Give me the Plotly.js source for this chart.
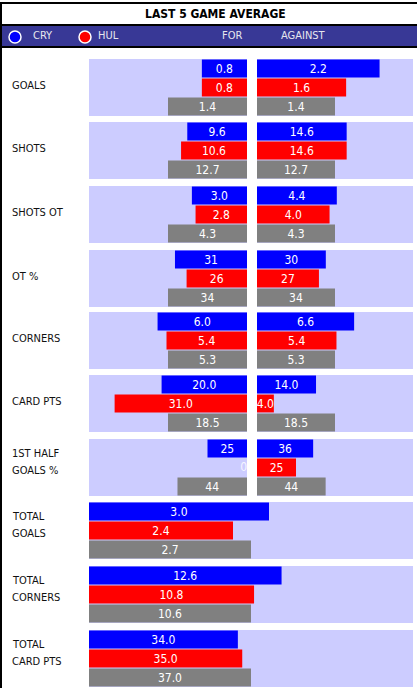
<!DOCTYPE html>
<html><head><meta charset="utf-8">
<script src="https://cdn.plot.ly/plotly-3.0.1.min.js"></script>
<style>html,body{margin:0;padding:0;background:#fff;}#chart{width:417px;height:688px;}</style>
</head><body><div id="chart"></div>
<script>
// ---- data ----
const title = 'LAST 5 GAME AVERAGE';
const teams = ['CRY', 'HUL'];
const sideLabels = ['FOR', 'AGAINST'];
const rowKeys = ['CRY', 'HUL', 'AVG'];
const categories = ['GOALS', 'SHOTS', 'SHOTS OT', 'OT %', 'CORNERS', 'CARD PTS', '1ST HALF\nGOALS %'];
const cryFor = [0.8, 9.6, 3.0, 31, 6.0, 20.0, 25];
const hulFor = [0.8, 10.6, 2.8, 26, 5.4, 31.0, 0];
const avgFor = [1.4, 12.7, 4.3, 34, 5.3, 18.5, 44];
const cryAgainst = [2.2, 14.6, 4.4, 30, 6.6, 14.0, 36];
const hulAgainst = [1.6, 14.6, 4.0, 27, 5.4, 4.0, 25];
const avgAgainst = [1.4, 12.7, 4.3, 34, 5.3, 18.5, 44];
const decimals = [1, 1, 1, 0, 1, 1, 0];
const scaleMax = [2.8, 25.4, 8.6, 68, 10.6, 37, 100];
const totalCategories = ['TOTAL\nGOALS', 'TOTAL\nCORNERS', 'TOTAL\nCARD PTS'];
const cryTotal = [3.0, 12.6, 34.0];
const hulTotal = [2.4, 10.8, 35.0];
const avgTotal = [2.7, 10.6, 37.0];
const totalScaleMax = [5.4, 21.2, 74];

// ---- style / layout ----
const W = 417, H = 688;
const FONT = "Tahoma, 'DejaVu Sans Condensed', 'DejaVu Sans', sans-serif";
const barColors = ['#0000ff', '#ff0000', '#808080'];
const panelTops = [59, 122, 186, 250, 312, 375, 439, 502, 566, 630];
const panelH = 57;
const leftDom = [89, 247], rightDom = [257, 413], fullDom = [89, 413];
const fx = p => p / W;
const fy = p => 1 - p / H;

const traces = [];
const layout = {
  width: W, height: H,
  margin: {l: 0, r: 0, t: 0, b: 0},
  paper_bgcolor: '#ffffff',
  plot_bgcolor: '#ccccff',
  showlegend: false,
  bargap: 0.06,
  font: {family: FONT, size: 11, color: '#000'},
  shapes: [],
  annotations: []
};

let axN = 0;
function addPanel(vals, texts, maxV, dom, reversed, topPx) {
  axN++;
  const sfx = axN === 1 ? '' : String(axN);
  traces.push({
    type: 'bar', orientation: 'h',
    x: vals, y: rowKeys,
    xaxis: 'x' + sfx, yaxis: 'y' + sfx,
    marker: {color: barColors, line: {width: 0}},
    text: texts,
    textposition: 'inside',
    insidetextanchor: 'middle',
    textangle: 0,
    constraintext: 'none',
    cliponaxis: false,
    textfont: {family: FONT, size: 12, color: '#ffffff'},
    hoverinfo: 'skip'
  });
  // zero-length bars: label drawn just inside the panel edge
  const zi = vals.map((v, j) => v === 0 ? j : -1).filter(j => j >= 0);
  if (zi.length) {
    traces.push({
      type: 'scatter', mode: 'text',
      x: zi.map(j => vals[j]), y: zi.map(j => rowKeys[j]),
      text: zi.map(j => texts[j]),
      textposition: reversed ? 'middle left' : 'middle right',
      textfont: {family: FONT, size: 12, color: '#f4f4ff'},
      xaxis: 'x' + sfx, yaxis: 'y' + sfx,
      cliponaxis: false, hoverinfo: 'skip'
    });
  }
  layout['xaxis' + sfx] = {
    domain: [fx(dom[0]), fx(dom[1])],
    range: reversed ? [maxV, 0] : [0, maxV],
    anchor: 'y' + sfx,
    showgrid: false, zeroline: false, showticklabels: false, ticks: '', showline: false, fixedrange: true
  };
  layout['yaxis' + sfx] = {
    domain: [fy(topPx + panelH), fy(topPx)],
    type: 'category', categoryorder: 'array', categoryarray: rowKeys,
    autorange: 'reversed',
    anchor: 'x' + sfx,
    showgrid: false, zeroline: false, showticklabels: false, ticks: '', showline: false, fixedrange: true
  };
}

function addLabel(label, topPx) {
  const lines = label.split('\n');
  const c = topPx + panelH / 2;
  const ys = lines.length === 1 ? [c - 2] : [c - 14, c + 3];
  lines.forEach((ln, j) => {
    layout.annotations.push({
      text: ln, xref: 'paper', yref: 'paper', x: fx(10), y: fy(ys[j]),
      xanchor: 'left', yanchor: 'middle', showarrow: false,
      font: {family: FONT, size: 11, color: '#111'}
    });
  });
}

const fmt = (v, d) => v.toFixed(d);
categories.forEach((cat, i) => {
  const d = decimals[i];
  const fv = [cryFor[i], hulFor[i], avgFor[i]];
  const av = [cryAgainst[i], hulAgainst[i], avgAgainst[i]];
  addPanel(fv, fv.map(v => fmt(v, d)), scaleMax[i], leftDom, true, panelTops[i]);
  addPanel(av, av.map(v => fmt(v, d)), scaleMax[i], rightDom, false, panelTops[i]);
  addLabel(cat, panelTops[i]);
});
totalCategories.forEach((cat, i) => {
  const tv = [cryTotal[i], hulTotal[i], avgTotal[i]];
  const top = panelTops[categories.length + i];
  addPanel(tv, tv.map(v => fmt(v, 1)), totalScaleMax[i], fullDom, false, top);
  addLabel(cat, top);
});

// header decorations
layout.shapes.push(
  {type: 'rect', xref: 'paper', yref: 'paper', x0: 0, x1: 1, y0: fy(47), y1: fy(25), fillcolor: '#383896', line: {width: 0}, layer: 'below'},
  {type: 'line', xref: 'paper', yref: 'paper', x0: 0, x1: 1, y0: fy(25), y1: fy(25), line: {color: '#000', width: 2}},
  {type: 'line', xref: 'paper', yref: 'paper', x0: 0, x1: 1, y0: fy(47), y1: fy(47), line: {color: '#000', width: 2}},
  {type: 'line', xref: 'paper', yref: 'paper', x0: 0, x1: 1, y0: fy(3), y1: fy(3), line: {color: '#000', width: 2}},
  {type: 'line', xref: 'paper', yref: 'paper', x0: fx(1), x1: fx(1), y0: 0, y1: fy(3), line: {color: '#000', width: 2}},
  {type: 'circle', xref: 'paper', yref: 'paper', x0: fx(9), x1: fx(21), y0: fy(43), y1: fy(31), fillcolor: barColors[0], line: {color: '#fff', width: 1.5}},
  {type: 'circle', xref: 'paper', yref: 'paper', x0: fx(79), x1: fx(91), y0: fy(43), y1: fy(31), fillcolor: barColors[1], line: {color: '#fff', width: 1.5}}
);
layout.annotations.push(
  {text: '<b>' + title + '</b>', xref: 'paper', yref: 'paper', x: fx(215), y: fy(14), xanchor: 'center', yanchor: 'middle', showarrow: false, font: {family: FONT, size: 12, color: '#000'}},
  {text: teams[0], xref: 'paper', yref: 'paper', x: fx(31), y: fy(36), xanchor: 'left', yanchor: 'middle', showarrow: false, font: {family: FONT, size: 11, color: '#e6e6ee'}},
  {text: teams[1], xref: 'paper', yref: 'paper', x: fx(96), y: fy(36), xanchor: 'left', yanchor: 'middle', showarrow: false, font: {family: FONT, size: 11, color: '#e6e6ee'}},
  {text: sideLabels[0], xref: 'paper', yref: 'paper', x: fx(220), y: fy(36), xanchor: 'left', yanchor: 'middle', showarrow: false, font: {family: FONT, size: 11, color: '#e6e6ee'}},
  {text: sideLabels[1], xref: 'paper', yref: 'paper', x: fx(279), y: fy(36), xanchor: 'left', yanchor: 'middle', showarrow: false, font: {family: FONT, size: 11, color: '#e6e6ee'}}
);

Plotly.newPlot('chart', traces, layout, {displayModeBar: false, staticPlot: true});
</script></body></html>
